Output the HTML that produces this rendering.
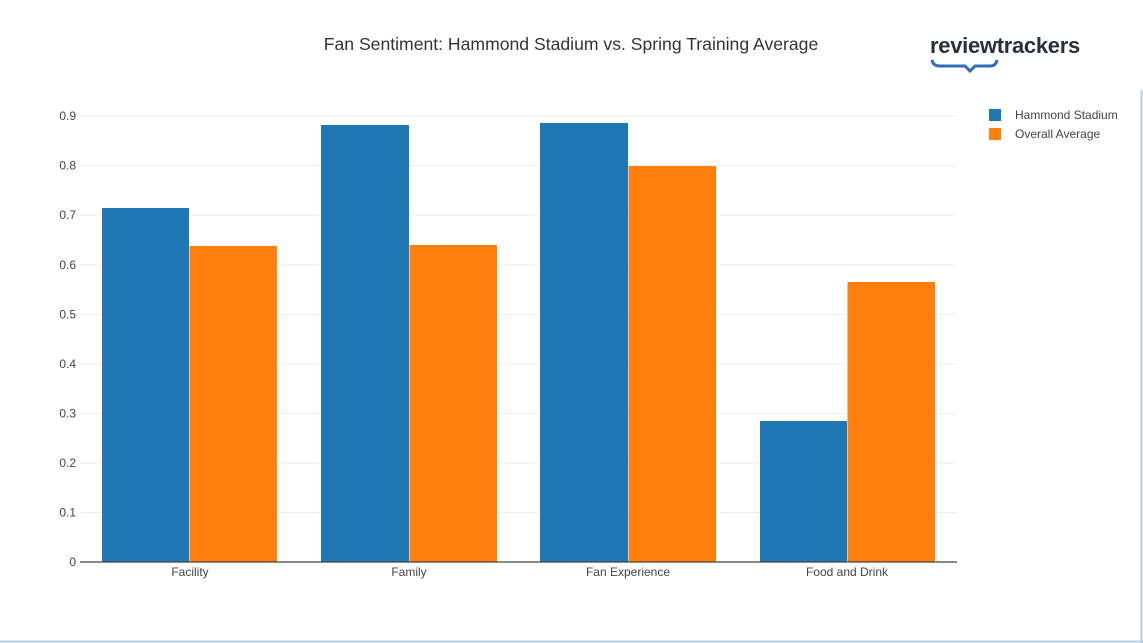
<!DOCTYPE html>
<html><head><style>
html,body{margin:0;padding:0;background:#fff;}
svg{display:block;font-family:"Liberation Sans",sans-serif;}
</style></head><body>
<svg width="1143" height="643" viewBox="0 0 1143 643">
<rect x="0" y="0" width="1143" height="643" fill="#fff"/>
<line x1="0" y1="641.5" x2="1143" y2="641.5" stroke="#b3cde3" stroke-width="2"/>
<line x1="1141.5" y1="90" x2="1141.5" y2="643" stroke="#b3cde3" stroke-width="2"/>
<text x="571" y="50" text-anchor="middle" font-size="17.6" fill="#333">Fan Sentiment: Hammond Stadium vs. Spring Training Average</text>
<text x="930" y="53" font-size="22" font-weight="bold" fill="#2a2f3a" letter-spacing="-0.3">reviewtrackers</text>
<path d="M932 60 Q933 66 940 66 L965 66 L970 71 L975 66 L990 66 Q996 66 997 60" fill="none" stroke="#2f6db5" stroke-width="3"/>
<g stroke="#eee" stroke-width="1">
<line x1="80" x2="957" y1="512.5" y2="512.5"/>
<line x1="80" x2="957" y1="463" y2="463"/>
<line x1="80" x2="957" y1="413.5" y2="413.5"/>
<line x1="80" x2="957" y1="364" y2="364"/>
<line x1="80" x2="957" y1="314.5" y2="314.5"/>
<line x1="80" x2="957" y1="265" y2="265"/>
<line x1="80" x2="957" y1="215" y2="215"/>
<line x1="80" x2="957" y1="165.5" y2="165.5"/>
<line x1="80" x2="957" y1="116" y2="116"/>
</g>
<g font-size="12" fill="#444" text-anchor="end">
<text x="76" y="566">0</text>
<text x="76" y="516.5">0.1</text>
<text x="76" y="467">0.2</text>
<text x="76" y="417.5">0.3</text>
<text x="76" y="368">0.4</text>
<text x="76" y="318.5">0.5</text>
<text x="76" y="269">0.6</text>
<text x="76" y="219">0.7</text>
<text x="76" y="169.5">0.8</text>
<text x="76" y="120">0.9</text>
</g>
<g fill="#1f77b4">
<rect x="102" y="208" width="87" height="354"/>
<rect x="321" y="125" width="88" height="437"/>
<rect x="540" y="123" width="88" height="439"/>
<rect x="760" y="421" width="87" height="141"/>
</g>
<g fill="#ff7f0e">
<rect x="189.5" y="246" width="87.5" height="316"/>
<rect x="409.5" y="245" width="87.5" height="317"/>
<rect x="628.5" y="166" width="87.5" height="396"/>
<rect x="847.5" y="282" width="87.5" height="280"/>
</g>
<line x1="80" x2="957" y1="562" y2="562" stroke="#444" stroke-width="1.2"/>
<g font-size="12" fill="#444" text-anchor="middle">
<text x="190" y="576">Facility</text>
<text x="409" y="576">Family</text>
<text x="628" y="576">Fan Experience</text>
<text x="847" y="576">Food and Drink</text>
</g>
<rect x="989" y="109" width="12" height="12" fill="#1f77b4"/>
<rect x="989" y="128" width="12" height="12" fill="#ff7f0e"/>
<g font-size="12" fill="#444">
<text x="1015" y="119">Hammond Stadium</text>
<text x="1015" y="138">Overall Average</text>
</g>
</svg>
</body></html>
